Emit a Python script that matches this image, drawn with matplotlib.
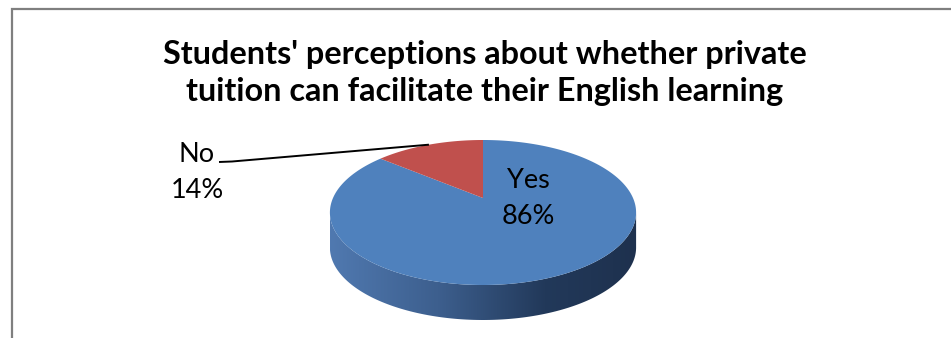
import numpy as np
import matplotlib.pyplot as plt
from matplotlib.patches import Polygon
from matplotlib.colors import LinearSegmentedColormap

labels = ['Yes', 'No']
values = [86, 14]
colors = ['#4F81BD', '#C0504D']
title = "Students' perceptions about whether private\ntuition can facilitate their English learning"

W, H = 951, 338
# pie geometry in pixels (tilted disc with a bit of perspective)
cx, cy = 483, 198
rx, ry = 150, 69.6
k = 0.2
depth = 35

FONT = 'Lato'


def proj(t):
    c, s = np.cos(t), np.sin(t)
    d = 1 + k * s
    return cx + rx * c / d, cy - ry * s / d


fig = plt.figure(figsize=(W / 100, H / 100), dpi=100)
ax = fig.add_axes([0, 0, 1, 1])
ax.set_xlim(0, W)
ax.set_ylim(H, 0)
ax.axis('off')

# chart frame (left and top edges visible)
ax.plot([11.5, 11.5, W + 5], [H + 5, 9, 9], color='#7f7f7f', lw=1.6,
        solid_joinstyle='miter')

# slice angles: start at 12 o'clock, clockwise
fracs = np.array(values) / sum(values)
ends = np.pi / 2 - 2 * np.pi * np.cumsum(fracs)
starts = np.concatenate([[np.pi / 2], ends[:-1]])

# side of the disc (only the front part shows)
tl = np.pi + np.arcsin(k)
tr = 2 * np.pi - np.arcsin(k)
side_cmap = LinearSegmentedColormap.from_list(
    'side', [(0, '#5079B0'), (0.35, '#3D5F8E'), (0.7, '#22395A'), (1, '#1E314E')])
for st, en in zip(starts, ends):
    # slice spans [en, st] in math angles; bring into front range
    a0, a1 = en % (2 * np.pi), en % (2 * np.pi) + (st - en)
    lo, hi = max(a0, tl), min(a1, tr)
    if hi <= lo:
        a0, a1 = a0 - 2 * np.pi, a1 - 2 * np.pi
        lo, hi = max(a0, tl), min(a1, tr)
    if hi <= lo:
        continue
    tt = np.linspace(lo, hi, 200)
    xs, ys = proj(tt)
    px = np.concatenate([xs, xs[::-1]])
    py = np.concatenate([ys, ys[::-1] + depth])
    poly = Polygon(np.column_stack([px, py]), closed=True, facecolor='none',
                   edgecolor='none')
    ax.add_patch(poly)
    grad = np.linspace(0, 1, 256).reshape(1, -1)
    x0, x1 = proj(np.array([tl, tr]))[0]
    im = ax.imshow(grad, cmap=side_cmap, aspect='auto',
                   extent=[x0, x1, py.max() + 1, py.min() - 1], zorder=2,
                   interpolation='bilinear')
    im.set_clip_path(poly)

# top of the disc
for st, en, col in zip(starts, ends, colors):
    tt = np.linspace(st, en, 300)
    xs, ys = proj(tt)
    pts = np.column_stack([np.concatenate([[cx], xs]), np.concatenate([[cy], ys])])
    ax.add_patch(Polygon(pts, closed=True, facecolor=col, edgecolor='none',
                         zorder=3, antialiased=True))

# title
ax.text(485, 73, title, ha='center', va='center', fontsize=23.3,
        fontweight='bold', family=FONT, linespacing=1.33, zorder=5)

# data labels
pct = ['%d%%' % v for v in values]
ax.text(528, 198, labels[0] + '\n' + pct[0], ha='center', va='center',
        fontsize=19.5, family=FONT, linespacing=1.55, zorder=5)
ax.text(197, 172, labels[1] + '\n' + pct[1], ha='center', va='center',
        fontsize=19.5, family=FONT, linespacing=1.55, zorder=5)

# leader line for the small slice
mid = (starts[1] + ends[1]) / 2
lx, ly = proj(mid)
ax.plot([219, 232, lx], [162, 161.5, ly], color='black', lw=1.4,
        zorder=6, solid_capstyle='butt')

fig.savefig('out.png', dpi=100)
